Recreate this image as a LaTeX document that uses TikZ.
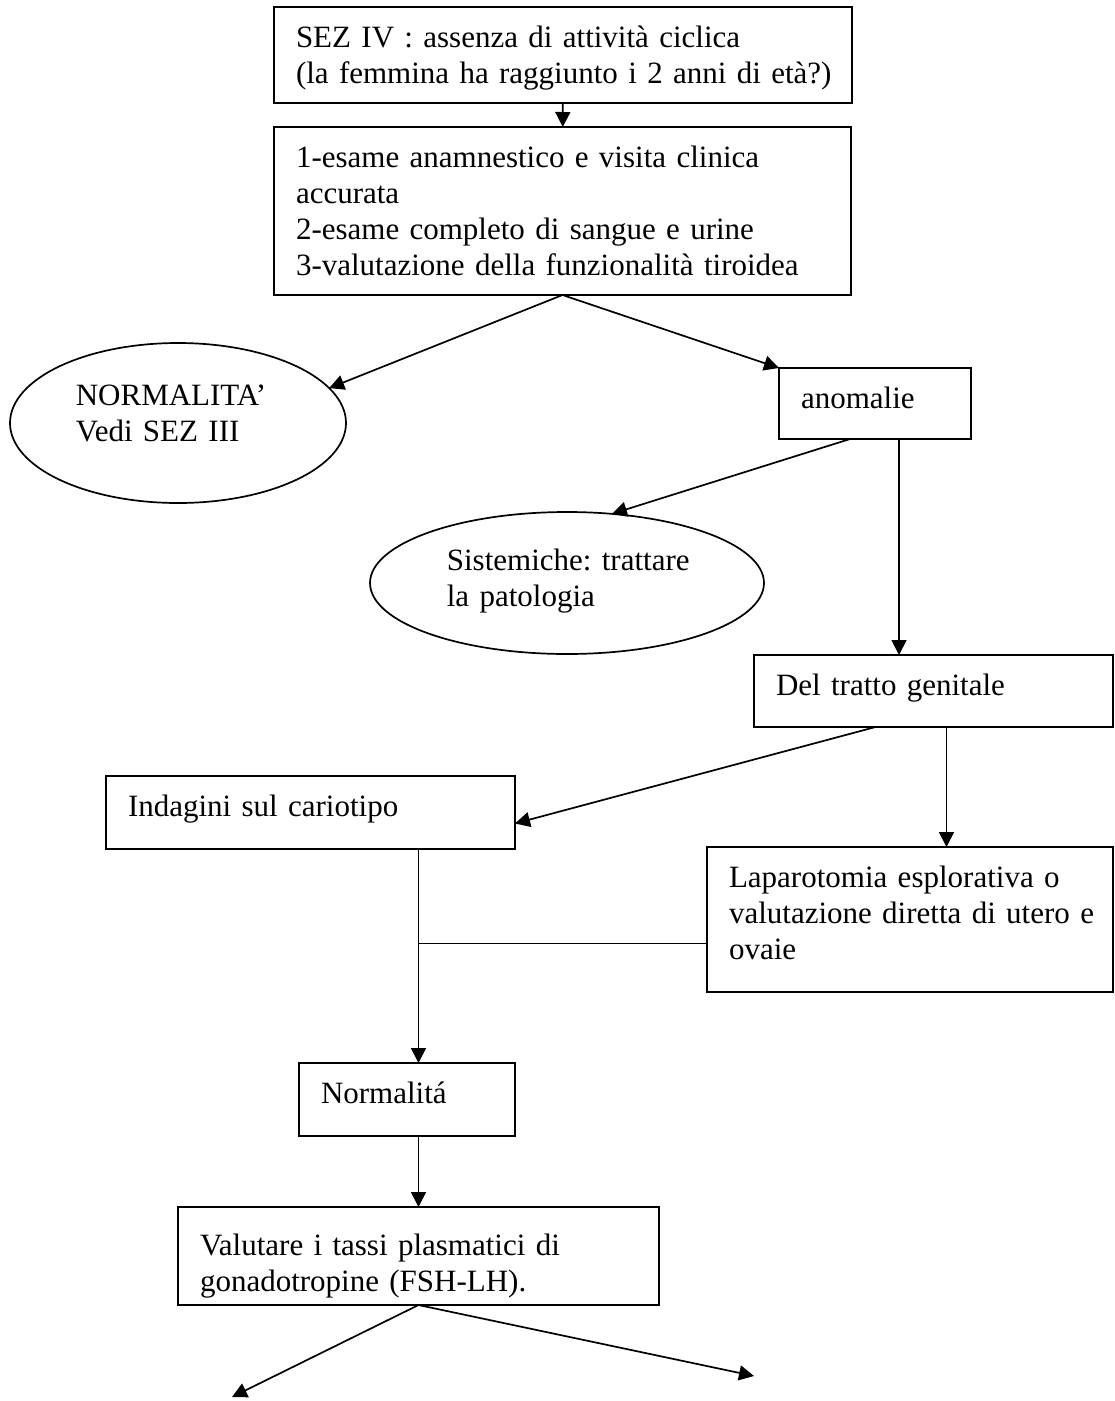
\documentclass[tikz,border=0pt]{standalone}
\usepackage{fontspec}
\setmainfont{Liberation Serif}
\usetikzlibrary{arrows.meta,shapes.geometric,positioning}

\newcommand{\dfont}{\fontsize{31}{36}\selectfont\frenchspacing}

\begin{document}
\begin{tikzpicture}[
        x=1pt, y=-1pt,
        every path/.style={line width=1.7pt},
        arr/.style={-{Triangle[length=15pt,width=15pt]}},
        box/.style={draw, anchor=north west, outer sep=0pt, inner xsep=22pt, inner ysep=0pt, align=left, font=\dfont, text height=40pt},
        oval/.style={draw, ellipse, outer sep=0pt, inner sep=0pt},
        txt/.style={anchor=north west, inner sep=0pt, align=left, font=\dfont, text height=40pt, text width=300pt}
    ]
    \useasboundingbox (0,0) rectangle (1115,1401);

    % Nodes
    \node[box, text width=534pt, text depth=56pt] (sez) at (274,7)
        {\mbox{SEZ IV : assenza di attività ciclica} \\
         \mbox{(la femmina ha raggiunto i 2 anni di età?)}};

    \node[box, text width=533pt, text depth=128pt] (exam) at (274,127)
        {\mbox{1-esame anamnestico e visita clinica} \\
         accurata \\
         \mbox{2-esame completo di sangue e urine} \\
         \mbox{3-valutazione della funzionalità tiroidea}};

    \node[oval, minimum width=336pt, minimum height=160pt] (normal) at (178,423) {};
    \node[txt] (normaltext) at (75,365) {NORMALITA'\\ Vedi SEZ III};

    \node[box, text width=148pt, text depth=31pt] (anom) at (779,368) {anomalie};

    \node[oval, minimum width=394pt, minimum height=142pt] (sist) at (567,583) {};
    \node[txt] (sisttext) at (446,530) {Sistemiche: trattare\\ la patologia};

    \node[box, text width=315pt, text depth=32pt] (genit) at (754,655) {Del tratto genitale};

    \node[box, text width=365pt, text depth=33pt] (indag) at (106,776) {Indagini sul cariotipo};

    \node[box, text width=362pt, text depth=105pt] (lapar) at (707,847)
        {\mbox{Laparotomia esplorativa o} \\
         \mbox{valutazione diretta di utero e} \\
         ovaie};

    \node[box, text width=172pt, text depth=33pt] (norm) at (299,1063) {Normalitá};

    \node[box, text width=437pt, text height=48pt, text depth=50pt] (valut) at (178,1207)
        {\mbox{Valutare i tassi plasmatici di} \\
         \mbox{gonadotropine (FSH-LH).}};

    % Edges
    \coordinate (anomR) at ([xshift=24pt]anom.south);
    \coordinate (genitR) at ([xshift=13pt]genit.south);
    \coordinate (kary) at ([xshift=108pt]indag.south);
    \coordinate (lapin) at ([yshift=-24pt]lapar.west);
    \coordinate (endL) at (232,1397);
    \coordinate (endR) at (754,1376);

    \draw[arr] (sez) -- (exam);
    \draw[arr] (exam.south) -- (normal.13);
    \draw[arr] (exam.south) -- (anom.north west);
    \draw[arr] ([xshift=-25pt]anom.south) -- (sist.57);
    \draw[arr] (anomR) -- (anomR |- genit.north);
    \draw[arr] ([xshift=-58pt]genit.south) -- ([yshift=-11pt]indag.east);
    \draw[arr] (genitR) -- (genitR |- lapar.north);
    \draw[arr] (kary) -- (kary |- norm.north);
    \draw (lapin) -- (kary |- lapin);
    \draw[arr] (valut.north |- norm.south) -- (valut.north);
    \draw[arr] (valut.south) -- (endL);
    \draw[arr] (valut.south) -- (endR);

\end{tikzpicture}
\end{document}
